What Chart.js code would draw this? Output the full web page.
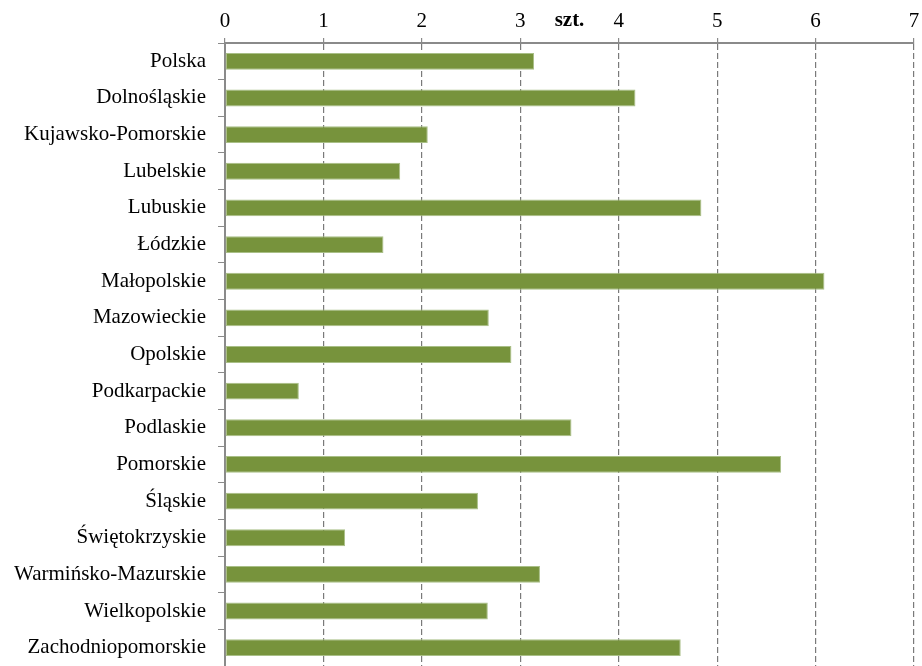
<!DOCTYPE html>
<html>
<head>
<meta charset="utf-8">
<script src="https://cdn.jsdelivr.net/npm/chart.js@4"></script>
<style>
html,body{margin:0;padding:0;background:#fff;}
#wrap{width:922px;height:666px;position:relative;}
</style>
</head>
<body>
<div id="wrap"><canvas id="c" width="922" height="666"></canvas></div>
<script>
const categories = ["Polska","Dolnośląskie","Kujawsko-Pomorskie","Lubelskie","Lubuskie","Łódzkie","Małopolskie","Mazowieckie","Opolskie","Podkarpackie","Podlaskie","Pomorskie","Śląskie","Świętokrzyskie","Warmińsko-Mazurskie","Wielkopolskie","Zachodniopomorskie"];
const values = [3.14,4.17,2.06,1.78,4.84,1.61,6.09,2.68,2.91,0.75,3.52,5.65,2.57,1.22,3.20,2.67,4.63];
const tickValues = [0,1,2,3,4,5,6,7];
const unitLabel = "szt.";

const FONT = "'Liberation Serif','Times New Roman',serif";
const AXIS = '#8a8a8a';

new Chart(document.getElementById('c'), {
  type: 'bar',
  data: {
    labels: categories,
    datasets: [{
      data: values,
      backgroundColor: '#77933C',
      borderColor: '#a9bf87',
      borderWidth: 1,
      borderSkipped: false,
      barPercentage: 0.46,
      categoryPercentage: 1
    }]
  },
  options: {
    indexAxis: 'y',
    responsive: false,
    animation: false,
    devicePixelRatio: 1,
    layout: { padding: { left: 0, right: 8, top: 0, bottom: 0 } },
    plugins: { legend: { display: false }, tooltip: { enabled: false } },
    scales: {
      x: {
        position: 'top',
        min: 0, max: 7,
        afterBuildTicks: s => { s.ticks = tickValues.map(v => ({ value: v })); },
        afterFit: s => { s.height = 43; s.paddingLeft = 0; s.paddingRight = 0; },
        ticks: { color: '#000', font: { family: FONT, size: 21 }, padding: 4, maxRotation: 0 },
        grid: { color: '#7a7a7a', lineWidth: 1.2, tickLength: 5, tickColor: AXIS },
        border: { display: true, color: AXIS, width: 2, dash: [6,3] },
        title: { display: true, text: unitLabel, color: '#000', font: { family: FONT, size: 21, weight: 'bold' }, padding: { top: 8, bottom: 0 } }
      },
      y: {
        afterFit: s => { s.width = 225; s.paddingTop = 0; s.paddingBottom = 0; },
        ticks: { color: '#000', font: { family: FONT, size: 21 }, padding: 12, autoSkip: false },
        grid: { display: true, drawOnChartArea: false, offset: true, tickLength: 7, color: AXIS, tickColor: AXIS },
        border: { display: true, color: AXIS, width: 2 }
      }
    }
  }
});
</script>
</body>
</html>
